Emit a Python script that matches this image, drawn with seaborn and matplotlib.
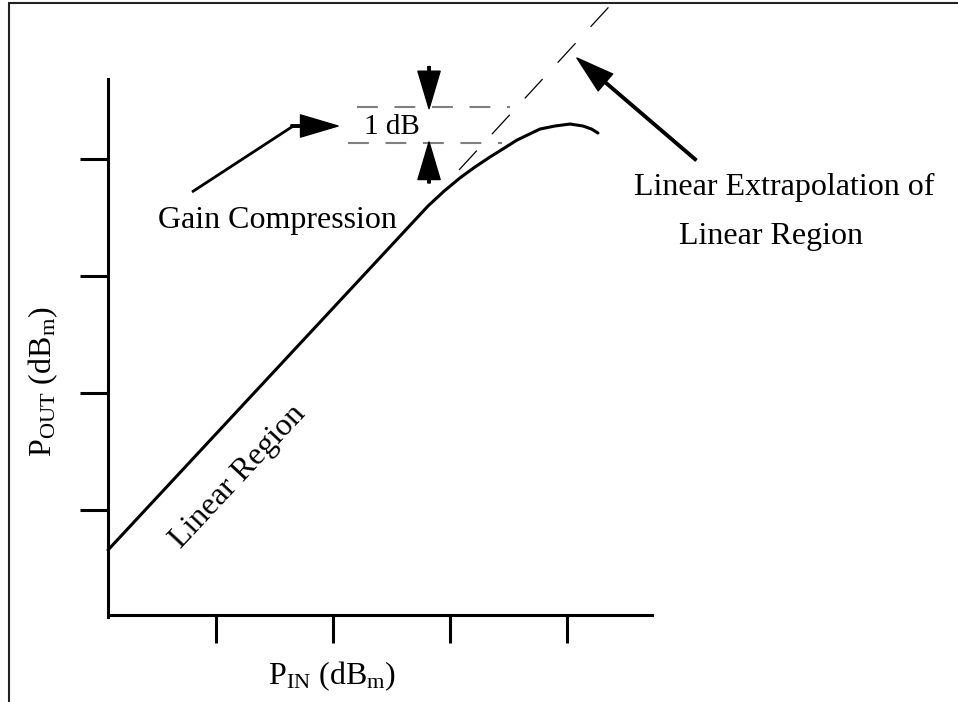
import matplotlib
matplotlib.use("Agg")
import matplotlib.pyplot as plt
from matplotlib.lines import Line2D
import seaborn as sns

# ---- data (schematic units: tick spacing = 1) ----
pin = [0.077, 2.812, 2.950, 3.085, 3.214, 3.342, 3.470, 3.573,
       3.769, 3.897, 4.026, 4.137, 4.210, 4.265]
pout = [0.658, 3.598, 3.726, 3.838, 3.932, 4.017, 4.097, 4.162,
        4.256, 4.282, 4.299, 4.282, 4.256, 4.222]
extrap_x = [3.077, 4.45]
extrap_y = [3.906, 5.40]
db_lines_y = [4.444, 4.137]
db_lines_x0 = [2.205, 2.128]
db_lines_x1 = [3.513, 3.444]
x_ticks = [1, 2, 3, 4]
y_ticks = [1, 2, 3, 4]

sns.set_style("white")
plt.rcParams['font.family'] = ['Liberation Serif', 'DejaVu Serif']
plt.rcParams['text.color'] = 'black'
plt.rcParams['mathtext.fontset'] = 'custom'
plt.rcParams['mathtext.rm'] = 'Liberation Serif'
plt.rcParams['mathtext.it'] = 'Liberation Serif:italic'
plt.rcParams['mathtext.bf'] = 'Liberation Serif:bold'
plt.rcParams['lines.scale_dashes'] = False

fig = plt.figure(figsize=(9.58, 7.02), dpi=100)
ax = fig.add_axes([0, 0, 1, 1])
ax.set_xlim(-0.846, 7.342)
ax.set_ylim(-0.641, 5.359)
ax.patch.set_alpha(0)

# main curve
sns.lineplot(x=pin, y=pout, ax=ax, color='black', linewidth=2.2, sort=False,
             estimator=None)

# linear extrapolation (dashed)
ax.plot(extrap_x, extrap_y, color='black', linewidth=0.9, linestyle=(0, (19, 16)))

# 1 dB reference lines
for y, x0, x1 in zip(db_lines_y, db_lines_x0, db_lines_x1):
    ax.plot([x0, x1], [y, y], color='#7f7f7f', linewidth=1.5, linestyle=(0, (15, 12)))

# axes spines & ticks
for s in ['top', 'right']:
    ax.spines[s].set_visible(False)
ax.spines['left'].set_position(('data', 0.077))
ax.spines['left'].set_bounds(0.085, 4.684)
ax.spines['bottom'].set_position(('data', 0.1026))
ax.spines['bottom'].set_bounds(0.103, 4.726)
for s in ['left', 'bottom']:
    ax.spines[s].set_linewidth(2.2)
    ax.spines[s].set_color('black')
ax.set_xticks(x_ticks)
ax.set_yticks(y_ticks)
ax.set_xticklabels([])
ax.set_yticklabels([])
ax.tick_params(direction='out', length=20, width=2.2, color='black',
               bottom=True, left=True)
ax.set_xlabel('')
ax.set_ylabel('')

fs = 23
arrow_kw = dict(facecolor='black', edgecolor='black', width=1.8, headwidth=16,
                headlength=27, shrink=0)

# 1 dB arrows
ax.annotate('', xy=(2.821, 4.43), xytext=(2.821, 4.79), arrowprops=arrow_kw)
ax.annotate('', xy=(2.821, 4.145), xytext=(2.821, 3.795), arrowprops=arrow_kw)
ax.text(2.504, 4.214, '1 dB', fontsize=21, ha='center', va='baseline')

# Gain compression arrow
ax.plot([0.795, 1.66], [3.718, 4.282], color='black', linewidth=2.0,
        solid_capstyle='butt')
ax.annotate('', xy=(2.043, 4.282), xytext=(1.641, 4.282), arrowprops=arrow_kw)
ax.text(0.504, 3.410, 'Gain Compression', fontsize=fs, ha='left', va='baseline')

# Linear extrapolation arrow
ax.annotate('', xy=(4.085, 4.863), xytext=(5.103, 3.991), arrowprops=arrow_kw)
ax.text(5.855, 3.692, 'Linear Extrapolation of', fontsize=fs, ha='center', va='baseline')
ax.text(5.744, 3.274, 'Linear Region', fontsize=fs, ha='center', va='baseline')

# Linear region label
ax.text(1.188, 1.282, 'Linear Region', fontsize=fs, ha='center', va='center',
        rotation=47, rotation_mode='anchor')

# axis labels
ax.text(-0.479, 2.094, r'P$_{\mathrm{OUT}}$ (dB$_{\mathrm{m}}$)', fontsize=fs,
        ha='center', va='center', rotation=90)
ax.text(1.991, -0.487, r'P$_{\mathrm{IN}}$ (dB$_{\mathrm{m}}$)', fontsize=fs,
        ha='center', va='baseline')

# outer frame (left and top edges)
fig.add_artist(Line2D([9 / 958, 9 / 958], [0, 1 - 3 / 702], color='#222222',
                      linewidth=1.5, transform=fig.transFigure))
fig.add_artist(Line2D([9 / 958, 1], [1 - 3 / 702, 1 - 3 / 702], color='#222222',
                      linewidth=1.5, transform=fig.transFigure))

fig.savefig('out.png', dpi=100)
